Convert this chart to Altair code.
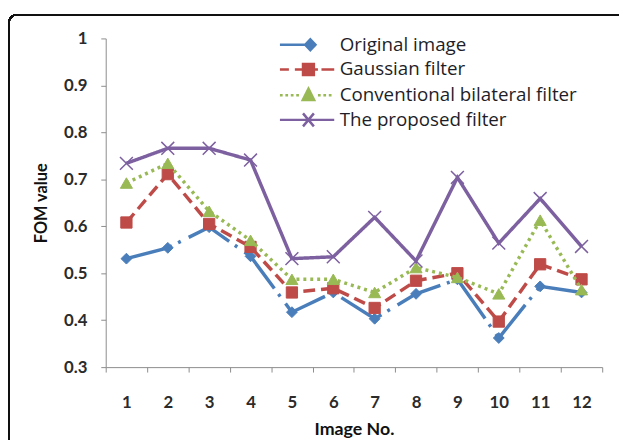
import re
import altair as alt
import pandas as pd

# ---- data ----
images = [1, 2, 3, 4, 5, 6, 7, 8, 9, 10, 11, 12]
original = [0.531, 0.554, 0.598, 0.536, 0.417, 0.459, 0.403, 0.456, 0.487, 0.362, 0.472, 0.459]
gaussian = [0.608, 0.711, 0.605, 0.556, 0.459, 0.468, 0.426, 0.484, 0.500, 0.397, 0.519, 0.487]
bilateral = [0.692, 0.734, 0.632, 0.570, 0.487, 0.487, 0.459, 0.512, 0.491, 0.456, 0.613, 0.465]
proposed = [0.734, 0.766, 0.766, 0.741, 0.531, 0.535, 0.619, 0.526, 0.704, 0.564, 0.659, 0.557]

series_names = ["Original image", "Gaussian filter", "Conventional bilateral filter", "The proposed filter"]
series_values = [original, gaussian, bilateral, proposed]
y_ticks = [0.3, 0.4, 0.5, 0.6, 0.7, 0.8, 0.9, 1.0]

# ---- styles ----
colors = ["#4a7ebb", "#be4b48", "#98b954", "#7d60a0"]
dashes = [[48, 7, 3, 9], [12, 6], [3, 4], [1, 0]]
marker_shapes = ["diamond", "square", "triangle-up", "M-1,-1L1,1M-1,1L1,-1"]
marker_sizes = [120, 130, 150, 170]
# legend glyphs (line sample + marker), drawn in units of half the glyph width
legend_glyphs = [
    "M-1,0H0.1 M0.12,-0.2L0.31,0L0.12,0.2L-0.07,0Z",
    "M-1,0H-0.67 M-0.45,0H-0.17 M0.27,0H0.4 M0.53,0H1 M-0.15,-0.2H0.25V0.2H-0.15Z",
    "M-1,0H-0.9 M-0.8,0H-0.7 M-0.6,0H-0.5 M-0.4,0H-0.3 M0.4,0H0.5 M0.6,0H0.7 M0.8,0H0.9 M0.05,-0.24L0.26,0.18L-0.16,0.18Z",
    "M-1,0H1 M-0.15,-0.24L0.25,0.24 M-0.15,0.24L0.25,-0.24",
]
GLYPH_HALF_W = 27.5   # px
SYMBOL_UNIT = 7.0     # px, = sqrt(symbolSize)/2


def scale_path(p, k):
    return re.sub(r"-?\d+(?:\.\d+)?", lambda m: f"{float(m.group()) * k:.3f}", p)


legend_paths = [scale_path(p, GLYPH_HALF_W / SYMBOL_UNIT) for p in legend_glyphs]

FONT = "Lato"
LEG_FONT = "Open Sans"

rows = []
for name, vals in zip(series_names, series_values):
    for img, v in zip(images, vals):
        rows.append({"image": img, "value": v, "series": name})
df = pd.DataFrame(rows)

x_enc = alt.X(
    "image:O",
    bandPosition=0.5,
    scale=alt.Scale(type="band", paddingInner=0, paddingOuter=0),
    axis=alt.Axis(
        title="Image No.", labelAngle=0, tickBand="extent", tickSize=5,
        labelPadding=23, titlePadding=10, domainColor="#8c8c8c", tickColor="#8c8c8c",
        labelFont=FONT, labelFontSize=17, labelFontWeight="bold", labelColor="#2b2b2b",
        titleFont=FONT, titleFontSize=18, titleFontWeight="bold", titleColor="#111111",
    ),
)
y_enc = alt.Y(
    "value:Q",
    scale=alt.Scale(domain=[0.3, 1.0], nice=False, zero=False),
    axis=alt.Axis(
        title="FOM value", values=y_ticks, format=".1~f", grid=False, tickSize=5,
        labelPadding=14, titlePadding=14, domainColor="#8c8c8c", tickColor="#8c8c8c",
        labelFont=FONT, labelFontSize=17, labelFontWeight="bold", labelColor="#2b2b2b",
        titleFont=FONT, titleFontSize=16.5, titleFontWeight="bold", titleColor="#111111",
    ),
)

base = alt.Chart(df)

frame = base.mark_rect(
    fill="transparent", stroke="#111111", strokeWidth=1.5, cornerRadius=8
).encode(x=alt.value(-98), x2=alt.value(540), y=alt.value(-24), y2=alt.value(420))

layers = [frame]
for name, col, dash, shp, sz in zip(series_names, colors, dashes, marker_shapes, marker_sizes):
    sub = base.transform_filter(alt.datum.series == name)
    layers.append(
        sub.mark_line(color=col, strokeDash=dash, strokeWidth=3.5).encode(x=x_enc, y=y_enc)
    )
    layers.append(
        sub.mark_point(
            shape=shp, filled=True, fill=col, stroke=col, strokeWidth=1.5 if shp.startswith("M") else 1,
            size=sz, opacity=1,
        ).encode(x=x_enc, y=y_enc)
    )

leg = alt.Legend(
    title=None, orient="none", legendX=194.5, legendY=-3, padding=0,
    symbolSize=(2 * SYMBOL_UNIT) ** 2, symbolStrokeWidth=2.5, labelOffset=23.5, rowPadding=2,
    labelFont=LEG_FONT, labelFontSize=19, labelColor="#1e1e28", labelLimit=400,
)
legend_layer = base.transform_filter("false").mark_point(
    filled=True, strokeWidth=2.5, opacity=1
).encode(
    color=alt.Color("series:N", scale=alt.Scale(domain=series_names, range=colors), legend=leg),
    stroke=alt.Stroke("series:N", scale=alt.Scale(domain=series_names, range=colors), legend=leg),
    shape=alt.Shape("series:N", scale=alt.Scale(domain=series_names, range=legend_paths), legend=leg),
)
layers.append(legend_layer)

chart = alt.layer(*layers).properties(
    width=503, height=333,
    autosize=alt.AutoSizeParams(type="none"),
    padding={"left": 99, "top": 28, "right": 17, "bottom": 71},
    background="white",
).configure_view(stroke=None)

chart.save("out.html", embed_options={"renderer": "svg", "actions": False})
